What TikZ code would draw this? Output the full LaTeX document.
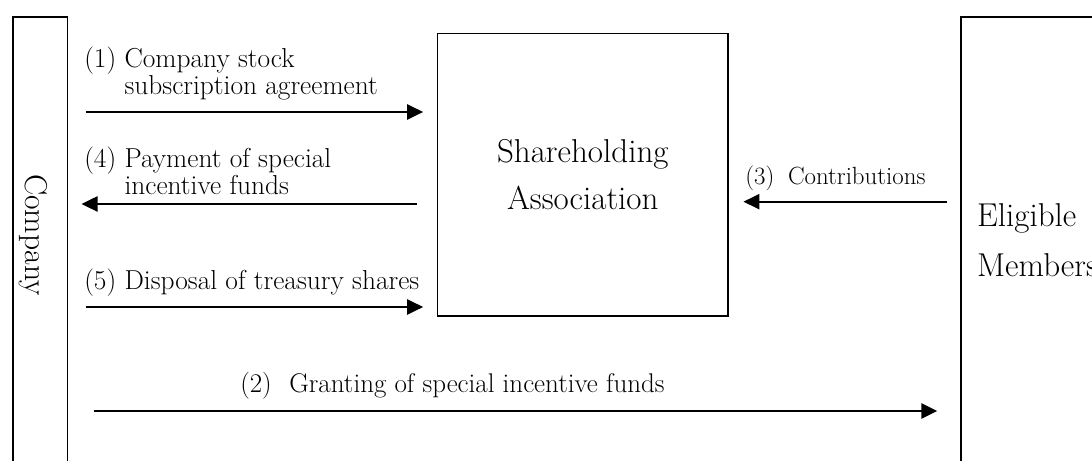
\documentclass[tikz,border=0pt]{standalone}
\usepackage{fontspec}
\usepackage{amsmath}
\usepackage{tikz}
\usetikzlibrary{calc,arrows.meta}

\begin{document}
\begin{tikzpicture}[
box/.style={draw,line width=1.1pt,inner sep=0pt},
flow/.style={line width=1.4pt,-{Triangle[length=0.4cm,width=0.38cm]}},
lbl/.style={inner sep=0pt,align=left,font=\fontsize{19.5}{17.8}\selectfont}]
\useasboundingbox (0,0) rectangle (27.3,11.525);
\clip (0,0) rectangle (27.3,11.525);
% parties
\node[box,anchor=north west,minimum width=1.367cm,minimum height=12cm] (company) at (0.3,11.125) {};
\node[rotate=-90,font=\fontsize{22.5}{22.5}\selectfont] (companytext) at (0.825,5.65) {Company};
\node[box,minimum width=7.26cm,minimum height=7.065cm,align=center,font=\fontsize{23.5}{33.4}\selectfont] (assoc) at (14.57,7.16) {Shareholding\\Association};
\node[box,anchor=north west,minimum width=4cm,minimum height=12cm] (members) at (24.0,11.125) {};
\node[anchor=west,align=left,inner sep=0pt,font=\fontsize{23.5}{35.3}\selectfont] (memberstext) at (24.42,5.525) {Eligible\\Members};
% rows
\coordinate (r1) at (0,8.725);
\coordinate (r4) at (0,6.425);
\coordinate (r5) at (0,3.85);
\coordinate (r2) at (0,1.25);
\coordinate (r3) at (0,6.4825);
% flows
\draw[flow,shorten <=0.433cm,shorten >=0.3425cm] (company.east |- r1) -- (assoc.west |- r1);
\draw[flow,shorten <=0.49cm,shorten >=0.333cm] (assoc.west |- r4) -- (company.east |- r4);
\draw[flow,shorten <=0.433cm,shorten >=0.3425cm] (company.east |- r5) -- (assoc.west |- r5);
\draw[flow,shorten <=0.633cm,shorten >=0.5675cm] (company.east |- r2) -- (members.west |- r2);
\draw[flow,shorten <=0.3325cm,shorten >=0.3675cm] (members.west |- r3) -- (assoc.east |- r3);
% labels
\node[lbl,anchor=north west] (lbl1) at (2.1,10.365) {(1) Company stock\\\hphantom{(1) }subscription agreement};
\node[lbl,anchor=north west] (lbl4) at (2.1,7.865) {(4) Payment of special\\\hphantom{(4) }incentive funds};
\node[lbl,anchor=base west] (lbl5) at (2.1,4.275) {(5) Disposal of treasury shares};
\node[lbl,anchor=base west,font=\fontsize{19.2}{19.2}\selectfont] (lbl2) at (6.0,1.7) {(2)\hspace{0.65em}Granting of special incentive funds};
\node[lbl,anchor=base west,font=\fontsize{17.7}{17.7}\selectfont] (lbl3) at (18.625,6.9) {(3)\hspace{0.55em}Contributions};
\end{tikzpicture}
\end{document}
